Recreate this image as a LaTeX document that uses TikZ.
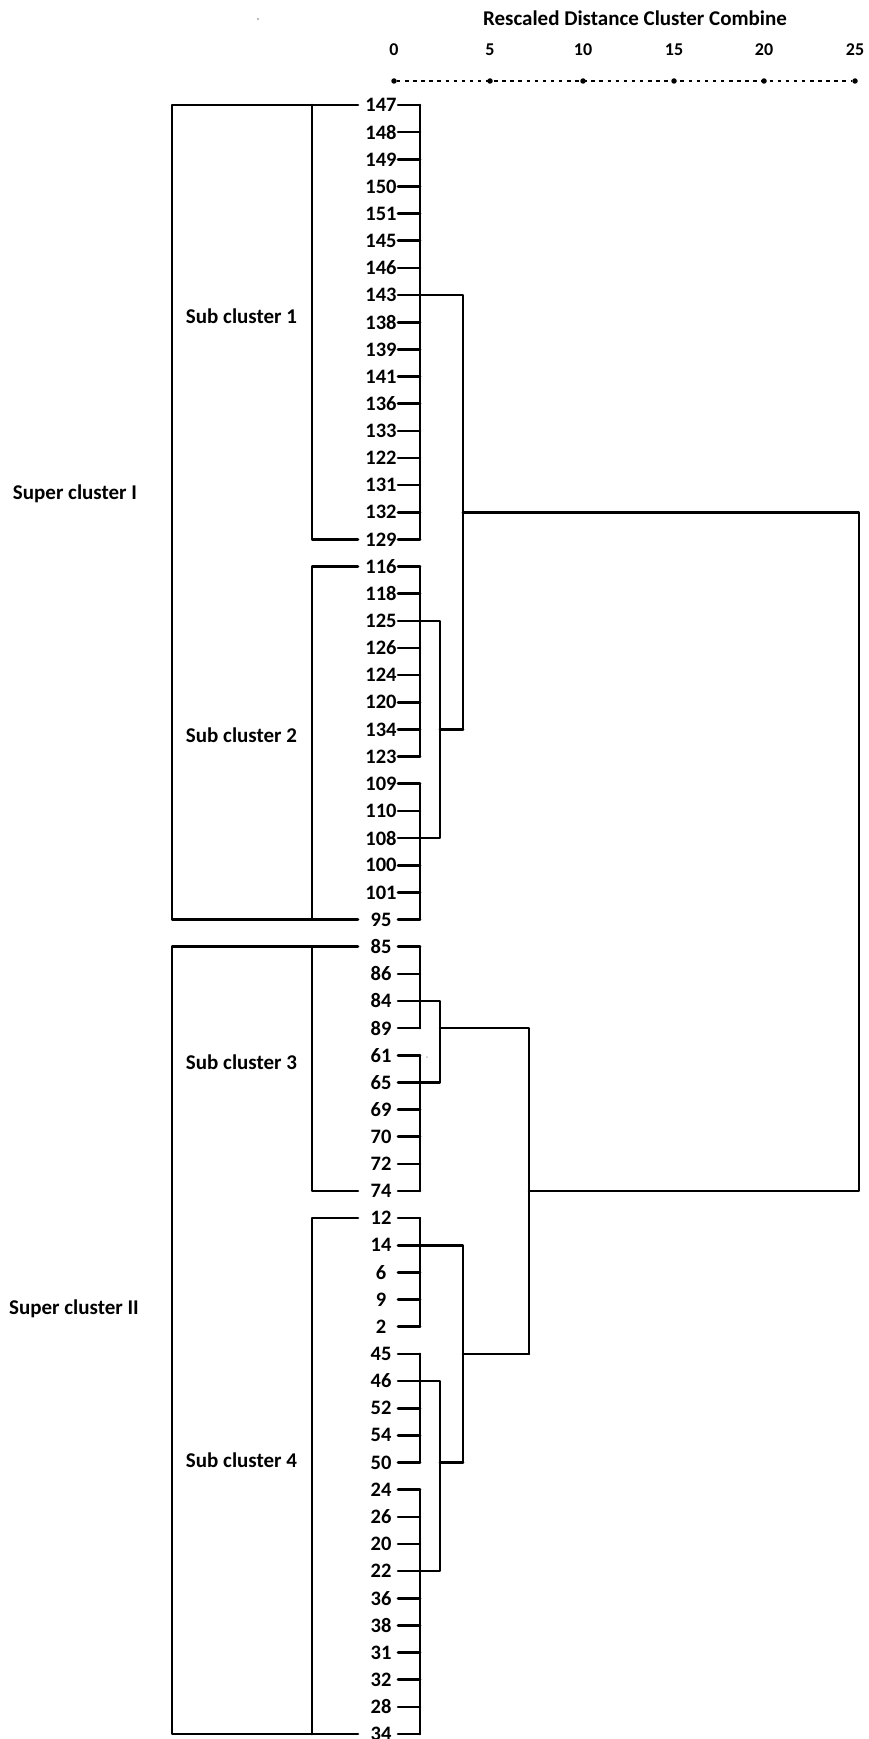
\documentclass[tikz,border=0pt]{standalone}
\usepackage{fontspec}
\setmainfont{Carlito}
\begin{document}
\begin{tikzpicture}[x=1pt,y=-1pt,
  dl/.style={line width=2.6pt,line join=round,line cap=round},
  lab/.style={font=\bfseries\fontsize{20.5}{22}\selectfont,inner sep=0pt,anchor=center},
  sub/.style={font=\bfseries\fontsize{21}{22}\selectfont,inner sep=0pt},
  num/.style={font=\bfseries\fontsize{18}{20}\selectfont,inner sep=0pt},
  ttl/.style={font=\bfseries\fontsize{21}{22}\selectfont,inner sep=0pt},
  tick/.style={circle,fill=black,inner sep=0pt,minimum size=5.5pt}]
\fill[white] (0,0) rectangle (869,1739);
\useasboundingbox (0,0) rectangle (869,1739);
% header
\node[ttl] (title) at (635,18) {Rescaled Distance Cluster Combine};
\foreach \v/\x [count=\k from 0] in {0/394,5/490,10/583,15/674,20/764,25/855}{
  \node[num] (s\k) at (\x,50) {\v};
  \node[tick] (t\k) at (\x,81) {};
}
\draw[line width=2.2pt,dash pattern=on 3.5pt off 4.6pt] (t0) -- (t5);
\fill[gray!70] (258,19) circle (1.2pt);
% rows
\foreach \lab [count=\i from 0] in {147,148,149,150,151,145,146,143,138,139,141,136,133,122,131,132,129,116,118,125,126,124,120,134,123,109,110,108,100,101,95,85,86,84,89,61,65,69,70,72,74,12,14,6,9,2,45,46,52,54,50,24,26,20,22,36,38,31,32,28,34}{
  \pgfmathsetmacro\yy{105+27.15*\i}
  \node[lab] (n\i) at (381,\yy) {\lab};
  \coordinate (a\i) at (398,\yy);
  \coordinate (b\i) at (420,\yy);
  \coordinate (l\i) at (358,\yy);
  \draw[dl] (a\i) -- (b\i);
}
\coordinate (O) at (172,0);
\coordinate (I) at (312,0);
\coordinate (X1) at (440,0);
\coordinate (X2) at (463,0);
\coordinate (X3) at (529,0);
\coordinate (X4) at (859,0);
% left brackets
\draw[dl] (l0) -- (l0 -| O) -- (l30 -| O) -- (l30);
\draw[dl] (l0 -| I) -- (l16 -| I) -- (l16);
\draw[dl] (l17) -- (l17 -| I) -- (l30 -| I);
\draw[dl] (l31) -- (l31 -| O) -- (l60 -| O) -- (l60);
\draw[dl] (l31 -| I) -- (l40 -| I) -- (l40);
\draw[dl] (l41) -- (l41 -| I) -- (l60 -| I);
\node[sub] (sc1) at (241.5,316) {Sub cluster 1};
\node[sub] (sc2) at (241.5,735) {Sub cluster 2};
\node[sub] (sc3) at (241.5,1062) {Sub cluster 3};
\node[sub] (sc4) at (241.5,1460) {Sub cluster 4};
\node[sub] (sp1) at (75,494) {Super cluster I};
\node[sub] (sp2) at (74,1309) {Super cluster II};
% dendrogram, super cluster I
\draw[dl] (b0) -- (b16);
\draw[dl] (b17) -- (b24);
\draw[dl] (b25) -- (b30);
\draw[dl] (b19) -- (b19 -| X1) -- (b27 -| X1) -- (b27);
\draw[dl] (b23 -| X1) -- (b23 -| X2);
\draw[dl] (b7) -- (b7 -| X2) -- (b23 -| X2);
\draw[dl] (b15 -| X2) -- (b15 -| X4) -- (b40 -| X4) -- (b40 -| X3);
% super cluster II
\draw[dl] (b31) -- (b34);
\draw[dl] (b35) -- (b40);
\draw[dl] (b33) -- (b33 -| X1) -- (b36 -| X1) -- (b36);
\draw[dl] (b34 -| X1) -- (b34 -| X3) -- (b46 -| X3);
\draw[dl] (b41) -- (b45);
\draw[dl] (b46) -- (b50);
\draw[dl] (b51) -- (b60);
\draw[dl] (b42) -- (b42 -| X2) -- (b50 -| X2);
\draw[dl] (b47) -- (b47 -| X1) -- (b54 -| X1) -- (b54);
\draw[dl] (b50 -| X1) -- (b50 -| X2);
\draw[dl] (b46 -| X2) -- (b46 -| X3);
\fill[gray!50] (427,1057) circle (1pt);
\end{tikzpicture}
\end{document}
